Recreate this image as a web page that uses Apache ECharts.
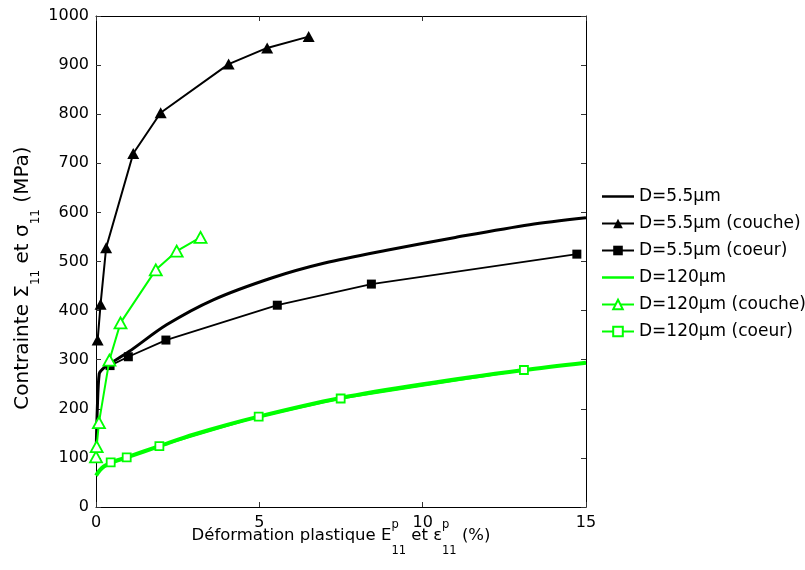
<!DOCTYPE html>
<html><head><meta charset="utf-8">
<script src="https://cdn.jsdelivr.net/npm/echarts@6/dist/echarts.min.js"></script>
<style>html,body{margin:0;padding:0;background:#fff}#c{width:805px;height:570px}</style>
</head><body><div id="c"></div>
<script>
// ---- data ----
const seriesNames = ['D=5.5μm','D=5.5μm (couche)','D=5.5μm (coeur)','D=120μm','D=120μm (couche)','D=120μm (coeur)'];
const d55 = [[0,95],[0.04,200],[0.1,272],[0.2,281],[0.43,292],[1,316],[2.16,371],[3.59,422],[5.4,467],[7,497],[8.9,523],[11,549],[13.27,575],[15,589]];
const d55Couche = [[0.05,340],[0.14,413],[0.31,528],[1.14,720],[1.98,803],[4.06,902],[5.24,935],[6.51,958]];
const d55Coeur = [[0.43,288],[0.99,306],[2.14,340],[5.55,411],[8.43,454],[14.72,515]];
const d120 = [[0,64],[0.12,75],[0.25,83],[0.45,90],[0.94,101],[1.94,124],[3,148],[4.98,184],[7.49,222],[10,250],[13.1,279],[15,294]];
const d120Couche = [[0,102],[0.02,123],[0.09,172],[0.41,299],[0.75,375],[1.83,483],[2.47,521],[3.2,549]];
const d120Coeur = [[0.45,91],[0.94,101],[1.94,124],[4.98,184],[7.49,221],[13.1,279]];
const xRange = [0, 15, 5];
const yRange = [0, 1000, 100];
const xLabelParts = [{t:'Déformation plastique E'},{sup:'p',sub:'11'},{t:' et ε'},{sup:'p',sub:'11'},{t:' (%)'}];
const yLabelParts = [{t:'Contrainte Σ'},{sub:'11'},{t:' et σ'},{sub:'11'},{t:' (MPa)'}];

// ---- styling ----
const FONT = 'DejaVu Sans';
const GREEN = '#00ff00';
const ctx = document.createElement('canvas').getContext('2d');
function tw(t, size){ ctx.font = size + 'px "' + FONT + '"'; return ctx.measureText(t).width; }

function buildLabel(parts, size, subSize, supOff, subOff){
  let w = 0;
  parts.forEach(p => {
    if (p.t) { p.w = tw(p.t, size); }
    else { p.w = Math.max(p.sup ? tw(p.sup, subSize) : 0, p.sub ? tw(p.sub, subSize) : 0); }
    w += p.w;
  });
  let x = -w / 2;
  const children = [];
  const mk = (text, xx, yy, fs) => ({type:'text', x: xx, y: yy, style:{text:text, fontSize:fs, fontFamily:FONT, fill:'#000', align:'left', verticalAlign:'middle'}});
  parts.forEach(p => {
    if (p.t) children.push(mk(p.t, x, 0, size));
    else {
      if (p.sup) children.push(mk(p.sup, x, supOff, subSize));
      if (p.sub) children.push(mk(p.sub, x, subOff, subSize));
    }
    x += p.w;
  });
  return children;
}

const grid = {left:96, right:219, top:16, bottom:63};
const axisCommon = {
  axisLine:{show:true, onZero:false, lineStyle:{color:'#000', width:1}},
  axisTick:{show:true, inside:true, length:5, lineStyle:{color:'#333', width:1}},
  splitLine:{show:false}
};
const labelStyle = {fontSize:16, fontFamily:FONT, color:'#000', formatter: v => String(v)};

const option = {
  animation:false,
  backgroundColor:'#fff',
  grid: grid,
  xAxis:[
    Object.assign({type:'value', min:xRange[0], max:xRange[1], interval:xRange[2], position:'bottom',
      axisLabel:Object.assign({margin:8}, labelStyle)}, axisCommon),
    Object.assign({type:'value', min:xRange[0], max:xRange[1], interval:xRange[2], position:'top',
      axisLabel:{show:false}}, axisCommon)
  ],
  yAxis:[
    Object.assign({type:'value', min:yRange[0], max:yRange[1], interval:yRange[2], position:'left',
      axisLabel:Object.assign({margin:7}, labelStyle)}, axisCommon),
    Object.assign({type:'value', min:yRange[0], max:yRange[1], interval:yRange[2], position:'right',
      axisLabel:{show:false}}, axisCommon)
  ],
  legend:{
    orient:'vertical', left:596, top:183, itemWidth:32, itemHeight:12, itemGap:10,
    textStyle:{fontSize:17, fontFamily:FONT, color:'#000'},
    data: [
      {name:seriesNames[0], icon:'path://M0,0 L32,0 L32,2.5 L0,2.5 Z'},
      seriesNames[1], seriesNames[2],
      {name:seriesNames[3], icon:'path://M0,0 L32,0 L32,2.5 L0,2.5 Z'},
      seriesNames[4], seriesNames[5]
    ]
  },
  series:[
    {name:seriesNames[0], type:'line', data:d55, symbol:'none', smooth:0.3, color:'#000',
      lineStyle:{color:'#000', width:3}, itemStyle:{color:'#000'}, z:2},
    {name:seriesNames[1], type:'line', data:d55Couche, symbol:'triangle', symbolSize:[12,11], color:'#000',
      lineStyle:{color:'#000', width:2}, itemStyle:{color:'#000'}, z:3},
    {name:seriesNames[2], type:'line', data:d55Coeur, symbol:'rect', symbolSize:9, color:'#000',
      lineStyle:{color:'#000', width:1.8}, itemStyle:{color:'#000'}, z:3},
    {name:seriesNames[3], type:'line', data:d120, symbol:'none', smooth:0.3, color:GREEN,
      lineStyle:{color:GREEN, width:4}, itemStyle:{color:GREEN}, z:4},
    {name:seriesNames[4], type:'line', data:d120Couche, symbol:'triangle', symbolSize:[12,11], color:GREEN,
      lineStyle:{color:GREEN, width:2}, itemStyle:{color:'#fff', borderColor:GREEN, borderWidth:1.8}, z:5},
    {name:seriesNames[5], type:'line', data:d120Coeur, symbol:'rect', symbolSize:8, color:GREEN,
      lineStyle:{color:GREEN, width:2}, itemStyle:{color:'#fff', borderColor:GREEN, borderWidth:1.8}, z:5}
  ],
  graphic:[
    {type:'group', x:341, y:536, children: buildLabel(xLabelParts, 16.5, 11.5, -11, 15)},
    {type:'group', x:23, y:278, rotation:Math.PI/2, children: buildLabel(yLabelParts, 20, 12, 0, 13)}
  ]
};
const chart = echarts.init(document.getElementById('c'), null, {renderer:'canvas'});
chart.setOption(option);
</script>
</body></html>
